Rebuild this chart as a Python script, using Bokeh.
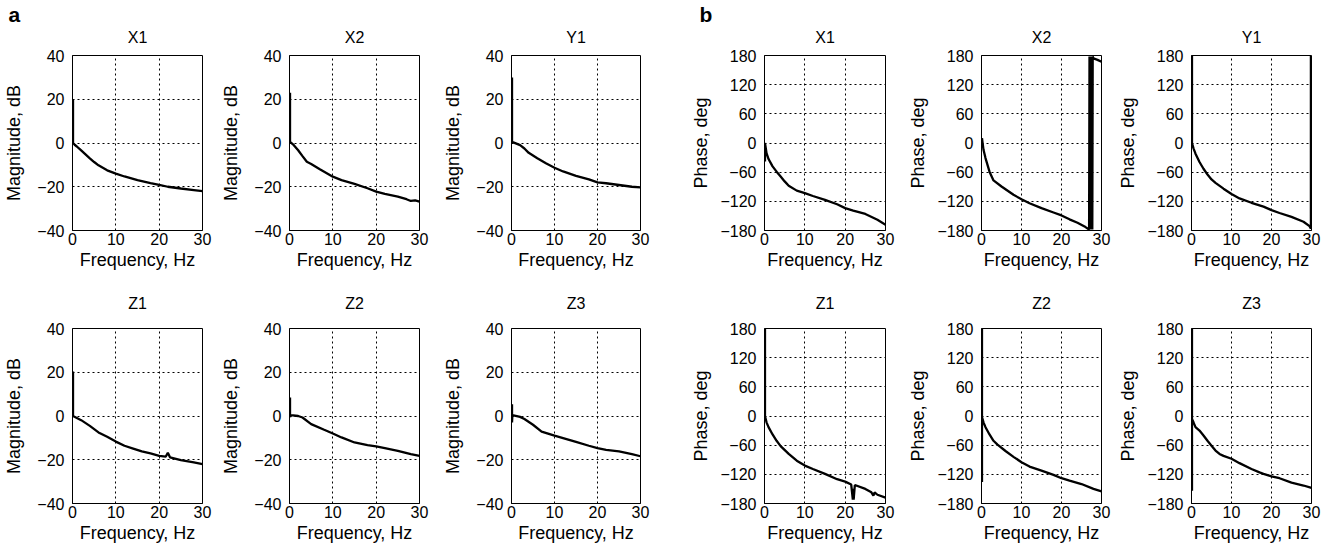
from bokeh.plotting import figure
from bokeh.layouts import row, column
from bokeh.models import FixedTicker, Range1d, Title
from bokeh.embed import file_html
from bokeh.resources import INLINE

# ---------------- data ----------------
freq_ticks = [0, 10, 20, 30]
mag_ticks = [-40, -20, 0, 20, 40]
phase_ticks = [-180, -120, -60, 0, 60, 120, 180]

# Magnitude (dB)
f_mag_x1 = [0.12, 0.12, 0.5, 1, 2, 3, 4, 5, 6, 8, 10, 12, 15, 18, 20, 22, 25, 28, 30]
mag_x1 = [20, 0, -0.8, -1.6, -3.4, -5.2, -7, -8.7, -10.2, -12.5, -14, -15.3, -17, -18.3, -19.1, -20, -20.8, -21.5, -22]

f_mag_x2 = [0.12, 0.12, 1, 2, 3, 4, 5, 7, 10, 12, 15, 18, 20, 22, 25, 27, 28, 29, 30]
mag_x2 = [23, 0.5, -1, -3.3, -6, -8.6, -9.6, -12, -15.4, -17, -18.7, -20.7, -22.2, -23.3, -24.5, -25.7, -26.5, -26.2, -26.8]

f_mag_y1 = [0.12, 0.12, 1, 2, 3, 4, 6, 8, 10, 12, 15, 18, 20, 22, 25, 28, 30]
mag_y1 = [30, 0.5, -0.2, -1, -2.5, -4.5, -7, -9.3, -11.3, -13, -15, -16.6, -18, -18.4, -19.2, -20, -20.3]

f_mag_z1 = [0.12, 0.12, 2, 4, 6, 8, 10, 12, 14, 16, 18, 20, 21.5, 22, 22.5, 25, 28, 30]
mag_z1 = [20.3, 0, -1.9, -4.5, -7.5, -9.5, -11.7, -13.6, -14.9, -16.2, -17.1, -18.2, -18.6, -16.8, -18.9, -20.2, -21.2, -22]

f_mag_z2 = [0.12, 0.12, 0.3, 2, 3, 5, 8, 10, 12, 15, 18, 20, 22, 25, 28, 30]
mag_z2 = [8.5, -0.5, 0.4, 0, -0.7, -3.7, -6.3, -8, -9.8, -12.1, -13.3, -13.9, -14.7, -15.9, -17.4, -18.2]

f_mag_z3 = [0.12, 0.12, 0.2, 2, 3, 5, 7, 10, 12, 15, 18, 20, 22, 25, 28, 30]
mag_z3 = [5.4, -3, 0.4, -0.4, -1.4, -4, -7.1, -9, -10.1, -11.8, -13.6, -14.7, -15.5, -16.2, -17.4, -18.4]

# Phase (deg)
f_ph_x1 = [0.12, 0.12, 0.5, 1, 2, 3, 4, 5, 6, 8, 10, 12, 15, 18, 20, 22, 25, 28, 30]
ph_x1 = [-38, 0, -21, -33, -48, -59, -69, -79, -88, -98, -103, -109, -117, -126, -134, -139, -146, -158, -168]

f_ph_x2 = [0.12, 0.5, 1, 2, 3, 5, 8, 10, 12, 15, 18, 20, 22, 24, 26, 26.9, 27.0, 27.1, 27.2, 27.3,
           27.4, 27.5, 27.6, 27.7, 27.8, 28, 29, 30]
ph_x2 = [10, -14, -31, -59, -77, -89.5, -106.6, -115.6, -124, -134, -143, -149, -157, -164, -173, -178, 178, -178, 178, -178,
         178, -178, 178, -178, 178, 174, 171, 167]

f_ph_y1 = [0.12, 0.12, 0.5, 1, 2, 3, 4, 5, 6, 8, 10, 12, 15, 18, 20, 22, 25, 28, 29.5, 29.85, 29.85, 29.85]
ph_y1 = [180, 0, -11, -22, -39, -53, -65, -75, -82, -94, -105, -114, -123, -131, -138, -144, -152, -162, -171, -176, 180, -18]

f_ph_z1 = [0.12, 0.12, 0.5, 1, 2, 3, 4, 6, 8, 10, 12, 15, 18, 20, 21.5, 21.9, 22, 22.1, 22.4, 25, 26.5, 27, 27.3, 28, 30]
ph_z1 = [180, 0, -13, -23, -38, -51, -62, -78, -92, -102, -109, -119, -130, -135, -141, -172, -150, -172, -142, -150, -157, -164, -157, -162, -168]

f_ph_z2 = [0.12, 0.12, 0.12, 0.5, 1, 2, 3, 4, 6, 8, 10, 12, 15, 18, 20, 22, 25, 28, 30]
ph_z2 = [180, -136, -2, -13, -23, -38, -51, -59, -72, -84, -95, -104, -112.5, -121, -128, -133, -140, -150, -155]

f_ph_z3 = [0.12, 0.12, 0.12, 0.5, 1, 2, 3, 4, 5, 6, 7, 8, 10, 12, 15, 17, 18, 20, 22, 25, 28, 30]
ph_z3 = [180, -154, -6, -13, -23, -30, -40, -51, -61, -71, -78, -82, -88, -97, -109, -116, -119, -124, -128, -137, -143, -148]

FONT = "Liberation Sans"


def make_fig(fx, fy, title, ylabel, yticks, L, W, R, T, B, tstand, ystand, letter=None, letter_off=0):
    p = figure(frame_width=W, frame_height=175, output_backend="svg", toolbar_location=None,
               x_range=Range1d(0, 30), y_range=Range1d(yticks[0], yticks[-1]),
               min_border_left=L, min_border_right=R, min_border_top=T, min_border_bottom=B,
               background_fill_color="white", border_fill_color="white",
               outline_line_color="black", outline_line_width=1, outline_line_alpha=1)
    p.title.text = ""
    p.title.visible = False
    p.add_layout(Title(text=title, align="center", text_font=FONT, text_font_size="16px",
                       text_font_style="normal", text_color="black", standoff=tstand), "above")
    if letter is not None:
        p.add_layout(Title(text=letter, align="left", offset=letter_off, text_font=FONT,
                           text_font_size="21px", text_font_style="bold", text_color="black",
                           standoff=-16), "above")
    p.line(fx, fy, line_width=2.3, line_color="black")
    for ax in (p.xaxis[0], p.yaxis[0]):
        ax.major_tick_in = 0
        ax.major_tick_out = 0
        ax.minor_tick_in = 0
        ax.minor_tick_out = 0
        ax.axis_line_color = "black"
        ax.major_label_text_font = FONT
        ax.major_label_text_font_size = "16px"
        ax.major_label_text_color = "black"
        ax.axis_label_text_font = FONT
        ax.axis_label_text_font_size = "18px"
        ax.axis_label_text_font_style = "normal"
        ax.axis_label_text_color = "black"
    p.xaxis.ticker = FixedTicker(ticks=freq_ticks)
    p.yaxis.ticker = FixedTicker(ticks=yticks)
    p.xaxis.axis_label = "Frequency, Hz"
    p.yaxis.axis_label = ylabel
    p.xaxis.major_label_standoff = 2
    p.xaxis.axis_label_standoff = 2
    p.yaxis.major_label_standoff = 8
    p.yaxis.axis_label_standoff = ystand
    for g in (p.xgrid[0], p.ygrid[0]):
        g.grid_line_color = "black"
        g.grid_line_dash = "2 3"
        g.grid_line_width = 1
        g.grid_line_alpha = 1
    return p


MAG = "Magnitude, dB"
PH = "Phase, deg"

# column geometry: (L, W, R)
cols = [(72, 130, 11), (76, 130, 16), (76, 129, 46), (78, 121, 18), (78, 120, 12), (78, 120, 27)]

top_specs = [
    (f_mag_x1, mag_x1, "X1", MAG, mag_ticks, "a", -64),
    (f_mag_x2, mag_x2, "X2", MAG, mag_ticks, None, 0),
    (f_mag_y1, mag_y1, "Y1", MAG, mag_ticks, None, 0),
    (f_ph_x1, ph_x1, "X1", PH, phase_ticks, "b", -65),
    (f_ph_x2, ph_x2, "X2", PH, phase_ticks, None, 0),
    (f_ph_y1, ph_y1, "Y1", PH, phase_ticks, None, 0),
]
bot_specs = [
    (f_mag_z1, mag_z1, "Z1", MAG, mag_ticks),
    (f_mag_z2, mag_z2, "Z2", MAG, mag_ticks),
    (f_mag_z3, mag_z3, "Z3", MAG, mag_ticks),
    (f_ph_z1, ph_z1, "Z1", PH, phase_ticks),
    (f_ph_z2, ph_z2, "Z2", PH, phase_ticks),
    (f_ph_z3, ph_z3, "Z3", PH, phase_ticks),
]

columns = []
for i in range(6):
    L, W, R = cols[i]
    ystand = 10 if i < 3 else 6
    fx, fy, t, yl, yt, let, loff = top_specs[i]
    p1 = make_fig(fx, fy, t, yl, yt, L, W, R, 55, 45, 19, ystand, let, loff)
    fx, fy, t, yl, yt = bot_specs[i]
    p2 = make_fig(fx, fy, t, yl, yt, L, W, R, 53, 50, 33, ystand)
    columns.append(column(p1, p2, spacing=0))

layout = row(*columns, spacing=0)

open("out.html", "w").write(file_html(layout, INLINE))
